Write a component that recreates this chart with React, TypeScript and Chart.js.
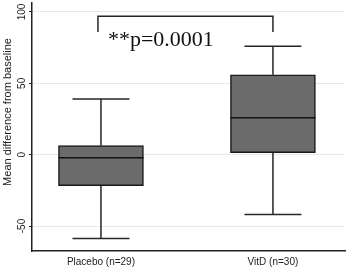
import { useEffect, useRef } from 'react';
import { Chart, registerables } from 'chart.js';
Chart.register(...registerables);

const categories = ['Placebo (n=29)', 'VitD (n=30)'];
const whiskerLow = [-58.7, -42];
const q1 = [-21.7, 1.4];
const median = [-2.1, 25.9];
const q3 = [6.3, 56];
const whiskerHigh = [39, 76];
const yTicks = [-50, 0, 50, 100];
const yTitle = 'Mean difference from baseline';
const pLabel = '**p=0.0001';
const bracketY = 97;
const bracketLegY = 86;
const pLabelY = 76.5;

const SANS = '"Liberation Sans", Arial, sans-serif';

const boxPlugin = {
  id: 'boxWhisker',
  afterDatasetsDraw(chart: any) {
    const { ctx, scales } = chart;
    const xs = scales.x;
    const ys = scales.y;
    const meta = chart.getDatasetMeta(0);
    ctx.save();
    ctx.lineWidth = 1.5;
    categories.forEach((_, i) => {
      const x = xs.getPixelForValue(i + 1);
      const bw = meta.data[i].width;
      const capHalf = bw * 0.335;
      const yHi = ys.getPixelForValue(whiskerHigh[i]);
      const yQ3 = ys.getPixelForValue(q3[i]);
      const yQ1 = ys.getPixelForValue(q1[i]);
      const yLo = ys.getPixelForValue(whiskerLow[i]);
      const yMed = ys.getPixelForValue(median[i]);
      ctx.strokeStyle = '#262626';
      ctx.beginPath();
      ctx.moveTo(x, yHi); ctx.lineTo(x, yQ3);
      ctx.moveTo(x, yQ1); ctx.lineTo(x, yLo);
      ctx.moveTo(x - capHalf, yHi); ctx.lineTo(x + capHalf, yHi);
      ctx.moveTo(x - capHalf, yLo); ctx.lineTo(x + capHalf, yLo);
      ctx.stroke();
      ctx.strokeStyle = '#111';
      ctx.beginPath();
      ctx.moveTo(x - bw / 2, yMed); ctx.lineTo(x + bw / 2, yMed);
      ctx.stroke();
    });
    // significance bracket
    const x1 = xs.getPixelForValue(1) - 3;
    const x2 = xs.getPixelForValue(2);
    const yb = ys.getPixelForValue(bracketY);
    const yl = ys.getPixelForValue(bracketLegY);
    ctx.beginPath();
    ctx.strokeStyle = '#262626';
    ctx.lineWidth = 1.5;
    ctx.moveTo(x1, yl); ctx.lineTo(x1, yb); ctx.lineTo(x2, yb); ctx.lineTo(x2, yl);
    ctx.stroke();
    ctx.fillStyle = '#111';
    ctx.font = '22px "Liberation Serif", "Times New Roman", serif';
    ctx.textAlign = 'left';
    ctx.textBaseline = 'alphabetic';
    ctx.fillText(pLabel, x1 + 10, ys.getPixelForValue(pLabelY));
    // y tick labels, rotated
    ctx.fillStyle = '#222';
    ctx.font = `10px ${SANS}`;
    ctx.textAlign = 'center';
    ctx.textBaseline = 'middle';
    yTicks.forEach((v) => {
      const y = ys.getPixelForValue(v);
      ctx.save();
      ctx.translate(22, y);
      ctx.rotate(-Math.PI / 2);
      ctx.fillText(String(v), 0, 0);
      ctx.restore();
    });
    // y axis title
    ctx.font = `11px ${SANS}`;
    ctx.save();
    ctx.translate(8, 112);
    ctx.rotate(-Math.PI / 2);
    ctx.fillText(yTitle, 0, 0);
    ctx.restore();
    ctx.restore();
  },
};

export default function App() {
  const ref = useRef<HTMLCanvasElement>(null);
  useEffect(() => {
    document.body.style.margin = '0';
    const chart = new Chart(ref.current!, {
      type: 'bar',
      data: {
        datasets: [
          {
            data: categories.map((_, i) => ({ x: i + 1, y: [q1[i], q3[i]] })) as any,
            backgroundColor: '#6b6b6b',
            borderColor: '#1a1a1a',
            borderWidth: 1.5,
            borderSkipped: false,
            barThickness: 85,
          },
        ],
      },
      options: {
        responsive: false,
        animation: false,
        layout: { padding: { top: 3, right: 5, left: 0, bottom: 0 } },
        plugins: { legend: { display: false }, tooltip: { enabled: false } },
        scales: {
          x: {
            type: 'linear',
            offset: false,
            min: 0.599,
            max: 2.419,
            afterBuildTicks: (s: any) => {
              s.ticks = [{ value: 1 }, { value: 2 }];
            },
            afterFit: (s: any) => {
              s.height = 23;
            },
            grid: { display: false, drawTicks: false, tickLength: 0 },
            border: { display: true, color: '#222', width: 1.5 },
            ticks: {
              callback: (v: any) => categories[Number(v) - 1],
              font: { family: SANS, size: 10 },
              color: '#222',
              padding: 5,
              maxRotation: 0,
              autoSkip: false,
            },
          },
          y: {
            min: -67.5,
            max: 106.3,
            afterBuildTicks: (s: any) => {
              s.ticks = yTicks.map((v) => ({ value: v }));
            },
            afterFit: (s: any) => {
              s.width = 32;
            },
            grid: { color: '#e8e8e8', tickLength: 3, tickColor: '#222', lineWidth: 1 },
            border: { display: true, color: '#222', width: 1.5 },
            ticks: { display: false },
            title: { display: false },
          },
        },
      },
      plugins: [boxPlugin],
    });
    return () => chart.destroy();
  }, []);
  return (
    <div style={{ width: 350, height: 274 }}>
      <canvas ref={ref} width={350} height={274} />
    </div>
  );
}
